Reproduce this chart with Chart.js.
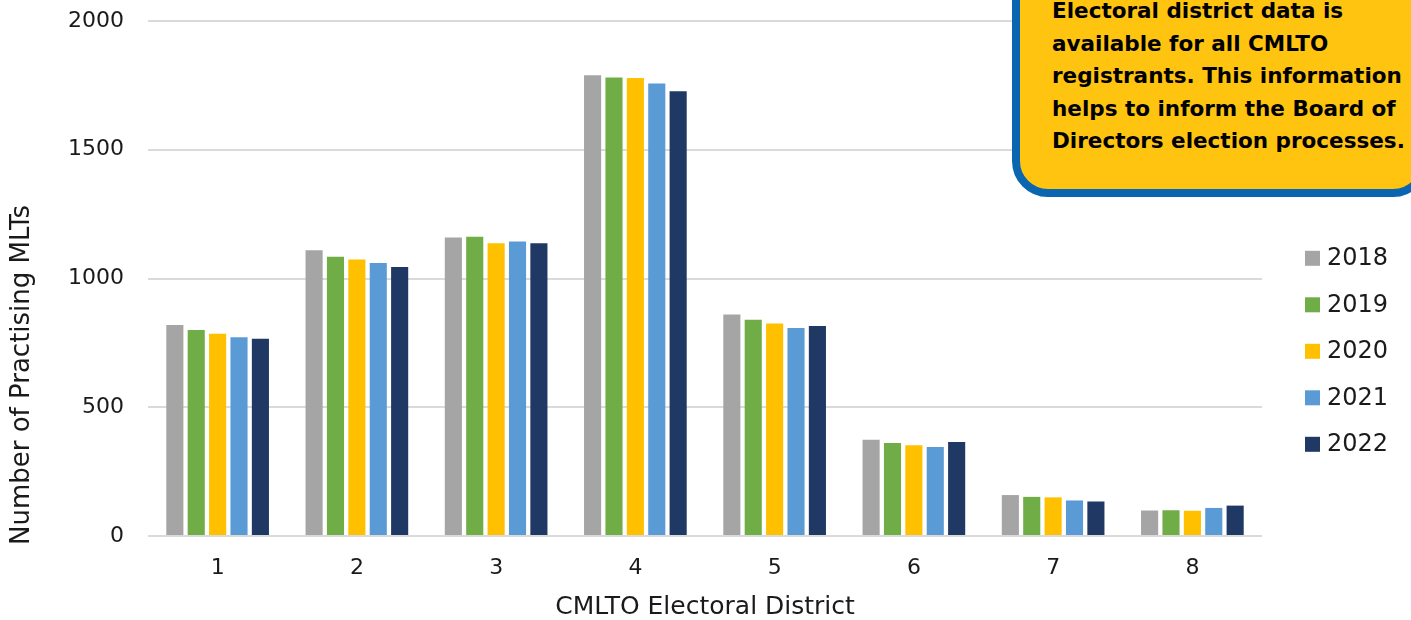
<!DOCTYPE html>
<html>
<head>
<meta charset="utf-8">
<title>Practising MLTs by CMLTO Electoral District</title>
<script src="https://cdn.jsdelivr.net/npm/chart.js@4.4.1/dist/chart.umd.min.js"></script>
<style>
  html, body { margin: 0; padding: 0; background: #ffffff; overflow: hidden; }
  #wrap { position: relative; width: 1411px; height: 620px; overflow: hidden; }
  #chart { position: absolute; left: 0; top: 0; }
  .callout {
    position: absolute;
    left: 1012px;
    top: -60px;
    width: 417px;
    height: 257px;
    box-sizing: border-box;
    background: #fec40f;
    border: 8px solid #0a66b0;
    border-radius: 36px;
  }
  .callout-text {
    position: absolute;
    left: 1052px;
    top: -5px;
    font-family: "DejaVu Sans", sans-serif;
    font-weight: bold;
    font-size: 21.5px;
    line-height: 32.5px;
    color: #000000;
    white-space: nowrap;
  }
</style>
</head>
<body>
<div id="wrap">
  <canvas id="chart" width="1411" height="620"></canvas>
  <div class="callout"></div>
  <div class="callout-text">Electoral district data is<br>available for all CMLTO<br>registrants. This information<br>helps to inform the Board of<br>Directors election processes.</div>
</div>
<script>
// Practising MLTs per electoral district, by registration year
const districts = ['1', '2', '3', '4', '5', '6', '7', '8'];
const years = ['2018', '2019', '2020', '2021', '2022'];
const mlts2018 = [819, 1110, 1159, 1789, 860, 374, 159, 99];
const mlts2019 = [800, 1084, 1162, 1781, 840, 361, 152, 100];
const mlts2020 = [785, 1074, 1137, 1779, 825, 352, 150, 98];
const mlts2021 = [772, 1060, 1144, 1757, 808, 346, 138, 109];
const mlts2022 = [766, 1045, 1137, 1727, 816, 365, 134, 118];
const yTicks = [0, 500, 1000, 1500, 2000];

const seriesValues = [mlts2018, mlts2019, mlts2020, mlts2021, mlts2022];
const seriesColors = ['#a5a5a5', '#70ad47', '#ffc000', '#5b9bd5', '#203864'];

const FONT = '"DejaVu Sans", sans-serif';
const TEXT = '#1a1a1a';

// Rotated y-axis title and the year key at the right
const sideText = {
  id: 'sideText',
  afterDraw(chart) {
    const ctx = chart.ctx;
    ctx.save();
    ctx.fillStyle = TEXT;
    ctx.font = '26px ' + FONT;
    ctx.textAlign = 'center';
    ctx.textBaseline = 'middle';
    ctx.translate(22, 375);
    ctx.rotate(-Math.PI / 2);
    ctx.fillText('Number of Practising MLTs', 0, 0);
    ctx.restore();

    ctx.save();
    ctx.font = '24px ' + FONT;
    ctx.textAlign = 'left';
    ctx.textBaseline = 'middle';
    chart.data.datasets.forEach((ds, i) => {
      const cy = 258.3 + i * 46.5;
      ctx.fillStyle = ds.backgroundColor;
      ctx.fillRect(1305, cy - 7.5, 15, 15);
      ctx.fillStyle = TEXT;
      ctx.fillText(ds.label, 1327, cy + 0.5);
    });
    ctx.restore();
  }
};

new Chart(document.getElementById('chart'), {
  type: 'bar',
  data: {
    labels: districts,
    datasets: years.map((y, i) => ({
      label: y,
      data: seriesValues[i],
      backgroundColor: seriesColors[i],
      borderWidth: 0,
      categoryPercentage: 0.768,
      barPercentage: 0.8
    }))
  },
  options: {
    responsive: false,
    animation: false,
    devicePixelRatio: 1,
    layout: { padding: { left: 0, right: 149, top: 21, bottom: 0 } },
    plugins: {
      legend: { display: false },
      tooltip: { enabled: false },
      title: { display: false }
    },
    scales: {
      x: {
        grid: { display: false, drawTicks: false },
        border: { display: false },
        ticks: {
          color: TEXT,
          font: { family: FONT, size: 22 },
          padding: 19,
          maxRotation: 0
        },
        title: {
          display: true,
          text: 'CMLTO Electoral District',
          color: TEXT,
          font: { family: FONT, size: 25, lineHeight: 1 },
          padding: { top: 0, bottom: 0 }
        },
        afterFit(scale) { scale.height = 84; }
      },
      y: {
        min: 0,
        max: 2000,
        afterBuildTicks(scale) { scale.ticks = yTicks.map(v => ({ value: v })); },
        grid: { color: '#dadada', lineWidth: 2, drawTicks: false },
        border: { display: false },
        ticks: {
          color: TEXT,
          font: { family: FONT, size: 22 },
          padding: 24,
          callback: (v) => String(v)
        },
        afterFit(scale) {
          scale.width = 148;
          scale.paddingTop = 0;
          scale.paddingBottom = 0;
        }
      }
    }
  },
  plugins: [sideText]
});
</script>
</body>
</html>
